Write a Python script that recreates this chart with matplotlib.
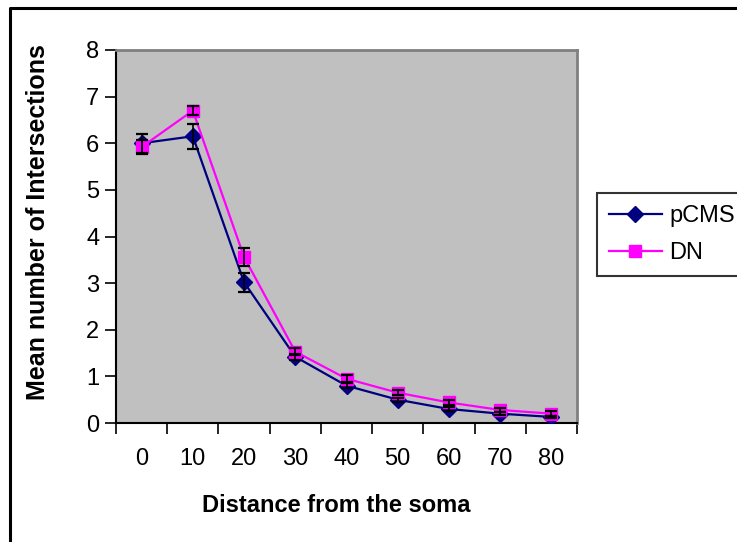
import matplotlib
matplotlib.use("Agg")
import matplotlib.pyplot as plt
from matplotlib.lines import Line2D
import numpy as np

# Sholl analysis: mean intersections vs distance from soma
distances = ["0", "10", "20", "30", "40", "50", "60", "70", "80"]
pcms_mean = [6.0, 6.15, 3.02, 1.42, 0.80, 0.50, 0.30, 0.20, 0.13]
pcms_err = [0.2, 0.27, 0.2, 0.06, 0.05, 0.04, 0.04, 0.03, 0.03]
dn_mean = [5.92, 6.70, 3.56, 1.53, 0.95, 0.65, 0.44, 0.28, 0.20]
dn_err = [0.15, 0.1, 0.2, 0.07, 0.07, 0.06, 0.06, 0.05, 0.05]
y_ticks = [0, 1, 2, 3, 4, 5, 6, 7, 8]

arial = ["Liberation Sans", "DejaVu Sans"]

W, H = 737, 542
fig = plt.figure(figsize=(W / 100, H / 100), dpi=100)
fig.patch.set_facecolor("white")

ax = fig.add_axes([116 / W, 1 - 423 / H, (577 - 116) / W, (423 - 50) / H])
ax.set_facecolor("#C0C0C0")

x = np.arange(len(distances))

ax.errorbar(x, pcms_mean, yerr=pcms_err, fmt="none", ecolor="black",
            elinewidth=1.2, capsize=4.5, capthick=1.6, zorder=4)
ax.errorbar(x, dn_mean, yerr=dn_err, fmt="none", ecolor="black",
            elinewidth=1.2, capsize=4.5, capthick=1.6, zorder=4)
ax.plot(x, pcms_mean, color="#000080", lw=1.6, marker="D", ms=8.5,
        mfc="#000080", mec="#000080", label="pCMS", zorder=3)
ax.plot(x, dn_mean, color="#FF00FF", lw=1.6, marker="s", ms=8.5,
        mfc="#FF00FF", mec="#FF00FF", label="DN", zorder=3)

ax.set_xlim(-0.5, len(distances) - 0.5)
ax.set_ylim(0, 8)
ax.set_yticks(y_ticks)
ax.set_yticklabels([str(v) for v in y_ticks])
ax.set_xticks(x)
ax.set_xticklabels(distances)
ax.set_xticks(np.arange(-0.5, len(distances)), minor=True)

ax.tick_params(axis="x", which="major", length=0, pad=18)
ax.tick_params(axis="x", which="minor", length=8, width=1.2, direction="out")
ax.tick_params(axis="y", which="major", length=8, width=1.2, direction="out", pad=4)
for lbl in ax.get_xticklabels() + ax.get_yticklabels():
    lbl.set_fontfamily(arial)
    lbl.set_fontsize(17)

for side in ("left", "bottom"):
    ax.spines[side].set_color("black")
    ax.spines[side].set_linewidth(1.5)
for side in ("top", "right"):
    ax.spines[side].set_color("#808080")
    ax.spines[side].set_linewidth(2)

fig.text(202 / W, 1 - 512 / H, "Distance from the soma", ha="left", va="baseline",
         fontsize=17, fontweight="bold", family=arial)
fig.text(38 / W, 1 - 222 / H, "Mean number of Intersections", ha="center", va="center",
         rotation=90, fontsize=18, fontweight="bold", family=arial)

leg = ax.legend(loc="upper left", bbox_to_anchor=(597 / W, 1 - 193 / H),
                bbox_transform=fig.transFigure, frameon=True, fancybox=False,
                prop={"family": arial, "size": 17}, handlelength=2.25,
                handletextpad=0.3, borderpad=0.5, labelspacing=0.65,
                borderaxespad=0)
leg.get_frame().set_edgecolor("black")
leg.get_frame().set_linewidth(1.5)
leg.get_frame().set_facecolor("white")

# Outer chart frame (left and top edges)
fig.add_artist(Line2D([10 / W, 10 / W, 1.05], [-0.05, 1 - 8 / H, 1 - 8 / H],
                      transform=fig.transFigure, color="black", lw=2.2))

fig.savefig("out.png", dpi=100)
